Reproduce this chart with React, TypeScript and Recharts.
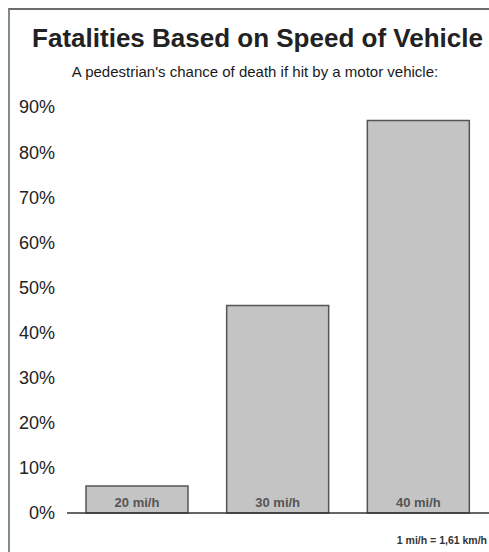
import { Bar, BarChart, LabelList, XAxis, YAxis } from 'recharts';

const speeds = ['20 mi/h', '30 mi/h', '40 mi/h'];
const deathChance = [6, 46, 87];
const yTicks = [0, 10, 20, 30, 40, 50, 60, 70, 80, 90];

const data = speeds.map((speed, i) => ({ speed, value: deathChance[i] }));

const font = '"Liberation Sans", Arial, Helvetica, sans-serif';

export default function App() {
    return (
        <div
            style={{
                position: 'absolute',
                left: 0,
                top: 0,
                width: 489,
                height: 552,
                background: '#fff',
                overflow: 'hidden',
                fontFamily: font,
            }}
        >
            {/* scanned page frame */}
            <div
                style={{
                    position: 'absolute',
                    left: 8,
                    top: 8,
                    width: 500,
                    height: 560,
                    borderLeft: '2px solid #7f8a90',
                    borderTop: '2px solid #6b6b6b',
                }}
            />
            <div
                style={{
                    position: 'absolute',
                    left: 0,
                    width: 515,
                    top: 23,
                    textAlign: 'center',
                    fontSize: 26,
                    fontWeight: 'bold',
                    color: '#222',
                    whiteSpace: 'nowrap',
                }}
            >
                Fatalities Based on Speed of Vehicle
            </div>
            <div
                style={{
                    position: 'absolute',
                    left: 0,
                    width: 510,
                    top: 63,
                    textAlign: 'center',
                    fontSize: 15,
                    color: '#1a1a1a',
                    whiteSpace: 'nowrap',
                }}
            >
                A pedestrian's chance of death if hit by a motor vehicle:
            </div>
            <div
                style={{
                    position: 'absolute',
                    right: 2,
                    top: 534,
                    fontSize: 10.5,
                    fontWeight: 'bold',
                    color: '#333',
                    whiteSpace: 'nowrap',
                }}
            >
                1 mi/h = 1,61 km/h
            </div>
            <div style={{ position: 'absolute', left: 0, top: 0 }}>
                <BarChart
                    width={489}
                    height={552}
                    data={data}
                    margin={{ top: 107, right: 0, bottom: 38, left: 0 }}
                >
                    <XAxis
                        dataKey="speed"
                        tick={false}
                        tickLine={false}
                        height={1}
                        axisLine={{ stroke: '#333', strokeWidth: 1.5 }}
                    />
                    <YAxis
                        width={67}
                        domain={[0, 90]}
                        ticks={yTicks}
                        tickFormatter={(v: number) => `${v}%`}
                        axisLine={false}
                        tickLine={false}
                        tickMargin={6}
                        tick={{ fill: '#222', fontSize: 18, fontFamily: font }}
                    />
                    <Bar
                        dataKey="value"
                        barSize={102}
                        fill="#c4c4c4"
                        stroke="#555"
                        strokeWidth={1.5}
                        isAnimationActive={false}
                    >
                        <LabelList
                            dataKey="speed"
                            position="insideBottom"
                            offset={6}
                            fill="#555"
                            fontSize={13}
                            fontWeight="bold"
                            fontFamily={font}
                        />
                    </Bar>
                </BarChart>
            </div>
        </div>
    );
}
